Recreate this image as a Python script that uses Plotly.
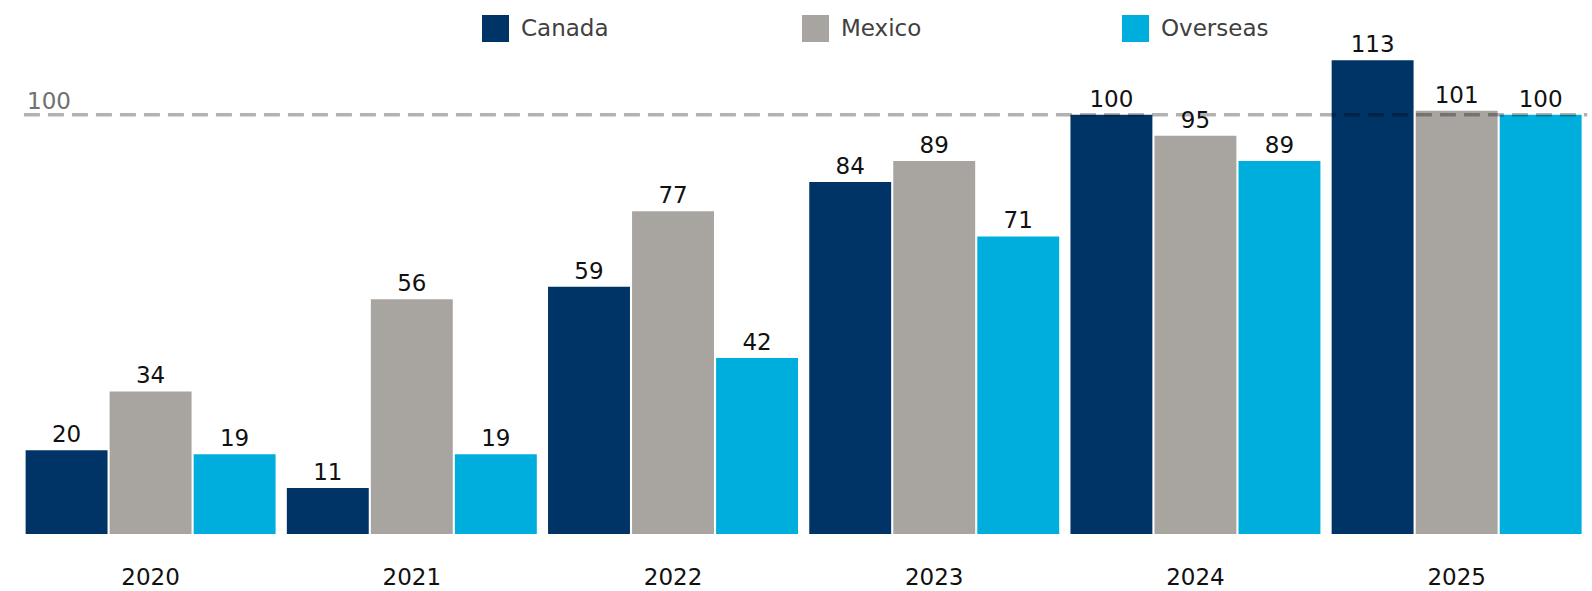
import plotly.graph_objects as go

years = ["2020", "2021", "2022", "2023", "2024", "2025"]
series_names = ["Canada", "Mexico", "Overseas"]
canada = [20, 11, 59, 84, 100, 113]
mexico = [34, 56, 77, 89, 95, 101]
overseas = [19, 19, 42, 71, 89, 100]
series_colors = ["#003366", "#A8A5A1", "#00AEDD"]
reference_level = 100

FONT = "DejaVu Sans"
W, H = 1592, 591
M_L, M_R, M_T, M_B = 20, 3, 31, 57
PLOT_W = W - M_L - M_R
PLOT_H = H - M_T - M_B

fig = go.Figure()
for name, vals, col in zip(series_names, [canada, mexico, overseas], series_colors):
    fig.add_trace(go.Bar(
        x=years, y=vals, name=name,
        marker=dict(color=col, line=dict(width=0)),
        text=[str(v) for v in vals],
        textposition="outside",
        textfont=dict(family=FONT, size=23, color="#111111"),
        cliponaxis=False,
        showlegend=False,
    ))

# dashed reference line drawn over the bars
fig.add_shape(
    type="line", xref="x", yref="y",
    x0=-0.485, x1=5.5, y0=reference_level, y1=reference_level,
    line=dict(color="rgba(0,0,0,0.3)", width=3.5, dash="16px,8px"),
    layer="above",
)
fig.add_annotation(
    x=-0.5, y=reference_level, xref="x", yref="y",
    xanchor="left", yanchor="bottom", xshift=5, yshift=-1,
    text=str(reference_level), showarrow=False,
    font=dict(family=FONT, size=23, color="#707070"),
)

# legend with large square swatches
def px_to_paper_x(px):
    return (px - M_L) / PLOT_W

def px_to_paper_y(py):
    return (H - M_B - py) / PLOT_H

legend_left = [482, 802, 1122]
for name, col, left in zip(series_names, series_colors, legend_left):
    fig.add_shape(
        type="rect", xref="paper", yref="paper",
        x0=px_to_paper_x(left), x1=px_to_paper_x(left + 27),
        y0=px_to_paper_y(42), y1=px_to_paper_y(15),
        fillcolor=col, line=dict(width=0),
    )
    fig.add_annotation(
        x=px_to_paper_x(left + 37), y=px_to_paper_y(28.5),
        xref="paper", yref="paper", xanchor="left", yanchor="middle",
        text=name, showarrow=False,
        font=dict(family=FONT, size=23, color="#404040"),
    )

fig.update_layout(
    width=W, height=H,
    margin=dict(l=M_L, r=M_R, t=M_T, b=M_B, autoexpand=False),
    paper_bgcolor="white", plot_bgcolor="white",
    barmode="group", bargap=0.035, bargroupgap=0.025,
    font=dict(family=FONT, size=23, color="#111111"),
    xaxis=dict(showgrid=False, showline=False, zeroline=False, ticks="",
               automargin=False,
               tickfont=dict(family=FONT, size=23, color="#111111"),
               ticklabelstandoff=27),
    yaxis=dict(range=[0, 120], showgrid=False, showline=False, zeroline=False,
               automargin=False, showticklabels=False, ticks=""),
)

fig.write_html("out.html")
